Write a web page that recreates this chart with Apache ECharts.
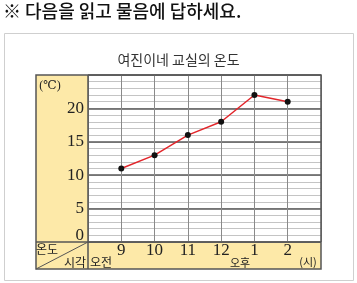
<!DOCTYPE html>
<html><head><meta charset="utf-8">
<script src="https://cdn.jsdelivr.net/npm/echarts@6/dist/echarts.min.js"></script>
<style>html,body{margin:0;padding:0;background:#fff}#c{width:357px;height:283px}</style>
</head><body><div id="c"></div>
<script>
var heading = '※ 다음을 읽고 물음에 답하세요.';
var chartTitle = '여진이네 교실의 온도';
var times = ['', '9', '10', '11', '12', '1', '2', ''];
var temps = [null, 11, 13, 16, 18, 22, 21, null];
var yMin = 0, yMax = 25, yMinor = 1, yMajor = 5;

var KR = '"Noto Sans CJK KR", "Noto Sans", sans-serif';
var SERIF = '"Liberation Serif", "DejaVu Serif", serif';
var YEL = '#fde9a8';
var chart = echarts.init(document.getElementById('c'));
chart.setOption({
  animation: false,
  title: {text: chartTitle, left: 'center', top: 48, textStyle: {fontFamily: KR, fontSize: 14, fontWeight: 'normal', color: '#333'}},
  grid: {left: 88, top: 75, right: 36, bottom: 41, containLabel: false},
  xAxis: {
    type: 'category', data: times, boundaryGap: false,
    axisLine: {show: false}, axisTick: {show: false},
    axisLabel: {fontFamily: SERIF, fontSize: 17, color: '#222', margin: 9, verticalAlign: 'middle', interval: 0},
    splitLine: {show: true, lineStyle: {color: '#8a8a8a', width: 1}}
  },
  yAxis: [{
    type: 'value', min: yMin, max: yMax, interval: yMinor,
    axisLine: {show: false}, axisTick: {show: false},
    axisLabel: {fontFamily: SERIF, fontSize: 17, color: '#222', margin: 4,
      formatter: function (v) {
        if (v % yMajor !== 0 || v >= yMax) return '';
        return v === yMin ? '{z|' + v + '}' : String(v);
      },
      rich: {z: {fontFamily: SERIF, fontSize: 17, color: '#222', padding: [0, 0, 13, 0]}}},
    splitLine: {show: true, lineStyle: {color: '#c4c4c4', width: 1}}
  }, {
    type: 'value', min: yMin, max: yMax, interval: yMajor, position: 'left',
    axisLine: {show: false}, axisTick: {show: false}, axisLabel: {show: false},
    splitLine: {show: true, lineStyle: {color: '#5a5a5a', width: 1.5}}
  }],
  series: [{
    type: 'line', data: temps, yAxisIndex: 0, z: 10,
    lineStyle: {color: '#e2262b', width: 1.5},
    symbol: 'circle', symbolSize: 6,
    itemStyle: {color: '#111', borderWidth: 0}
  }],
  graphic: [
    {type: 'text', left: 3, top: 2, style: {text: heading, font: '500 18px ' + KR, fill: '#111'}},
    {type: 'rect', shape: {x: 4.5, y: 33.5, width: 349, height: 247}, style: {fill: 'none', stroke: '#cfcfcf', lineWidth: 1}, z: -10},
    {type: 'rect', shape: {x: 36, y: 75, width: 52, height: 194}, style: {fill: YEL}, z: -5},
    {type: 'rect', shape: {x: 36, y: 242, width: 285, height: 27}, style: {fill: YEL}, z: -5},
    {type: 'line', shape: {x1: 36, y1: 269, x2: 88, y2: 242}, style: {stroke: '#555', lineWidth: 1}, z: 20},
    {type: 'line', shape: {x1: 88, y1: 75, x2: 88, y2: 269}, style: {stroke: '#555', lineWidth: 1.5}, z: 20},
    {type: 'line', shape: {x1: 36, y1: 242, x2: 321, y2: 242}, style: {stroke: '#555', lineWidth: 1.5}, z: 20},
    {type: 'rect', shape: {x: 36, y: 75, width: 285, height: 194}, style: {fill: 'none', stroke: '#555', lineWidth: 1.5}, z: 20},
    {type: 'text', x: 50, y: 86, style: {text: '(℃)', font: '12px ' + SERIF, fill: '#222', textAlign: 'center', textVerticalAlign: 'middle'}, z: 20},
    {type: 'text', x: 47, y: 249, style: {text: '온도', font: '12px ' + KR, fill: '#222', textAlign: 'center', textVerticalAlign: 'middle'}, z: 20},
    {type: 'text', x: 75, y: 262, style: {text: '시각', font: '12px ' + KR, fill: '#222', textAlign: 'center', textVerticalAlign: 'middle'}, z: 20},
    {type: 'text', x: 101, y: 262, style: {text: '오전', font: '12px ' + KR, fill: '#222', textAlign: 'center', textVerticalAlign: 'middle'}, z: 20},
    {type: 'text', x: 240, y: 263, style: {text: '오후', font: '11px ' + KR, fill: '#222', textAlign: 'center', textVerticalAlign: 'middle'}, z: 20},
    {type: 'text', x: 308, y: 262, style: {text: '(시)', font: '11px ' + KR, fill: '#222', textAlign: 'center', textVerticalAlign: 'middle'}, z: 20}
  ]
});
</script></body></html>
